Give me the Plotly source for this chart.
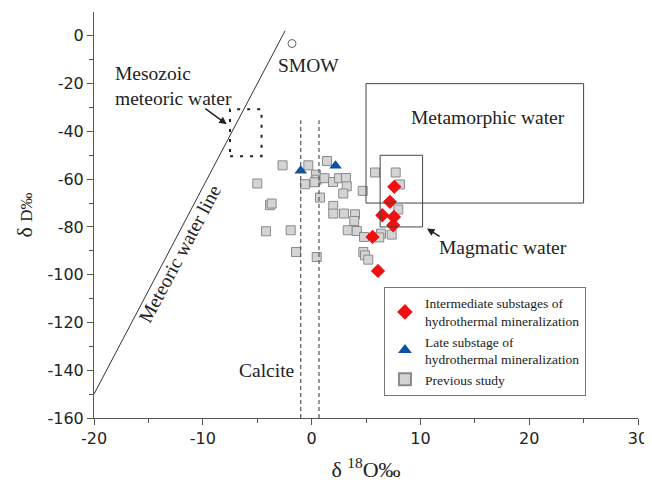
import plotly.graph_objects as go

# ---------------- data ----------------
inter_x = [7.6, 7.2, 6.5, 7.57, 7.5, 5.6, 6.1]
inter_y = [-63.2, -69.5, -75.1, -75.8, -79.3, -84.2, -98.4]

late_x = [-1.0, 2.2]
late_y = [-56.5, -54.4]

prev_x = [-2.67, -0.30, 1.42, -4.99, -0.61, 0.40, 0.47, 0.27, 1.19, 1.97,
          2.52, 3.16, 3.23, 2.91, 0.77, 4.70, 5.83, 7.73, 8.12, 7.97,
          -3.82, -3.67, 1.99, 1.99, 2.98, 3.99, 3.92, -4.19, -1.92, 3.32,
          4.15, 4.82, 6.38, 6.22, 7.36, -1.43, 0.47, 4.75, 4.91, 5.21]
prev_y = [-54.2, -54.2, -52.4, -61.8, -62.1, -58.1, -60.2, -61.3, -59.6, -61.2,
          -59.6, -59.5, -63.0, -66.0, -67.7, -64.9, -57.2, -57.2, -62.2, -72.7,
          -70.9, -70.2, -71.2, -74.4, -74.4, -74.7, -77.5, -81.8, -81.4, -81.4,
          -81.7, -84.2, -82.8, -84.4, -83.2, -90.5, -92.6, -90.5, -91.9, -93.7]

smow_x = [-1.8]
smow_y = [-3.2]

mwl_x = [-20, -2.44]
mwl_y = [-150, 2.1]

metamorphic_box = [5, 25, -70, -20]     # x0, x1, y0, y1
magmatic_box = [6.3, 10.2, -80, -50]
mesozoic_box = [-7.5, -4.6, -50.4, -30.7]
calcite_x = [-1.0, 0.68]
calcite_y = [-160, -35.3]

x_ticks = [-20, -10, 0, 10, 20, 30]
x_ticklabels = ["-20", "-10", "0", "10", "20", "30"]
y_ticks = [-160, -140, -120, -100, -80, -60, -40, -20, 0]
y_ticklabels = ["-160", "-140", "-120", "-100", "-80", "-60", "-40", "-20", "0"]
x_minor = [-15, -5, 5, 15, 25]
y_minor = [-150, -130, -110, -90, -70, -50, -30, -10]

SERIF = "Liberation Serif"
SANS = "DejaVu Sans"
AX = "#555555"

fig = go.Figure()

# meteoric water line
fig.add_trace(go.Scatter(x=mwl_x, y=mwl_y, mode="lines",
                         line=dict(color="#333333", width=1), showlegend=False, hoverinfo="skip"))

# boxes
for b in [metamorphic_box, magmatic_box]:
    fig.add_shape(type="rect", xref="x", yref="y", x0=b[0], x1=b[1], y0=b[2], y1=b[3],
                  line=dict(color="#444444", width=1))
fig.add_shape(type="rect", xref="x", yref="y", x0=mesozoic_box[0], x1=mesozoic_box[1],
              y0=mesozoic_box[2], y1=mesozoic_box[3],
              line=dict(color="#222222", width=2, dash="3px,7px"))
for cx in calcite_x:
    fig.add_shape(type="line", xref="x", yref="y", x0=cx, x1=cx, y0=calcite_y[0], y1=calcite_y[1],
                  line=dict(color="#555555", width=1.2, dash="4px,3px"))

# SMOW
fig.add_trace(go.Scatter(x=smow_x, y=smow_y, mode="markers",
                         marker=dict(symbol="circle-open", size=8, color="#666666", line=dict(width=1)),
                         showlegend=False, hoverinfo="skip"))

fig.add_trace(go.Scatter(x=prev_x, y=prev_y, mode="markers", name="Previous study",
                         marker=dict(symbol="square", size=9, color="#d4d4d4",
                                     line=dict(color="#8a8a8a", width=1))))
fig.add_trace(go.Scatter(x=late_x, y=late_y, mode="markers",
                         name="Late substage of<br>hydrothermal mineralization",
                         marker=dict(symbol="triangle-up", size=11, color="#0d4fa3",
                                     line=dict(width=0))))
fig.add_trace(go.Scatter(x=inter_x, y=inter_y, mode="markers",
                         name="Intermediate substages of<br>hydrothermal mineralization",
                         marker=dict(symbol="diamond", size=11, color="#ee1111",
                                     line=dict(width=0))))

ann_font = dict(family=SERIF, size=19.5, color="#222222")
fig.add_annotation(x=-0.3, y=-12.2, text="SMOW", showarrow=False, font=ann_font)
fig.add_annotation(x=-18.3, y=-21.1, text="Mesozoic<br>meteoric water", showarrow=False,
                   xanchor="left", yanchor="middle", align="left", font=ann_font)
fig.add_annotation(x=-7.8, y=-37.0, ax=-9.9, ay=-30.0, axref="x", ayref="y", text="",
                   showarrow=True, arrowhead=2, arrowsize=1, arrowwidth=1.5, arrowcolor="#222222")
fig.add_annotation(x=16.2, y=-34.1, text="Metamorphic water", showarrow=False, font=ann_font)
fig.add_annotation(x=11.5, y=-88.5, text="Magmatic water", showarrow=False,
                   xanchor="left", font=ann_font)
fig.add_annotation(x=10.6, y=-80.7, ax=11.9, ay=-84.3, axref="x", ayref="y", text="",
                   showarrow=True, arrowhead=2, arrowsize=1, arrowwidth=1.5, arrowcolor="#222222")
fig.add_annotation(x=-12.1, y=-91.0, text="Meteoric water line", showarrow=False,
                   textangle=-62, font=ann_font)
fig.add_annotation(x=-4.1, y=-140, text="Calcite", showarrow=False, font=ann_font)

fig.update_xaxes(range=[-20, 30], tickvals=x_ticks, ticktext=x_ticklabels, ticks="outside", ticklen=6,
                 tickcolor=AX, showline=True, linecolor=AX, linewidth=1, showgrid=False,
                 zeroline=False, automargin=False,
                 tickfont=dict(family=SANS, size=16, color="#222222"),
                 minor=dict(tickvals=x_minor, ticks="outside", ticklen=4, tickcolor=AX),
                 title=dict(text="δ <sup>18</sup>O‰", font=dict(family=SERIF, size=22, color="#222222"),
                            standoff=14))
fig.update_yaxes(range=[-160, 10], tickvals=y_ticks, ticktext=y_ticklabels, ticks="outside", ticklen=6,
                 tickcolor=AX, showline=True, linecolor=AX, linewidth=1, showgrid=False,
                 zeroline=False, automargin=False,
                 tickfont=dict(family=SANS, size=16, color="#222222"),
                 minor=dict(tickvals=y_minor, ticks="outside", ticklen=4, tickcolor=AX),
                 title=dict(text="δ <span style='font-size:17px'>D‰</span>",
                            font=dict(family=SERIF, size=22, color="#222222"), standoff=8))

fig.update_layout(
    width=644, height=479,
    margin=dict(l=86, r=14, t=4, b=69),
    plot_bgcolor="white", paper_bgcolor="white",
    legend=dict(x=0.533, y=0.323, xanchor="left", yanchor="top",
                bordercolor="#777777", borderwidth=1, bgcolor="white",
                font=dict(family=SERIF, size=13.5, color="#222222"),
                traceorder="reversed", itemsizing="constant", tracegroupgap=0),
)

fig.write_html("out.html")
